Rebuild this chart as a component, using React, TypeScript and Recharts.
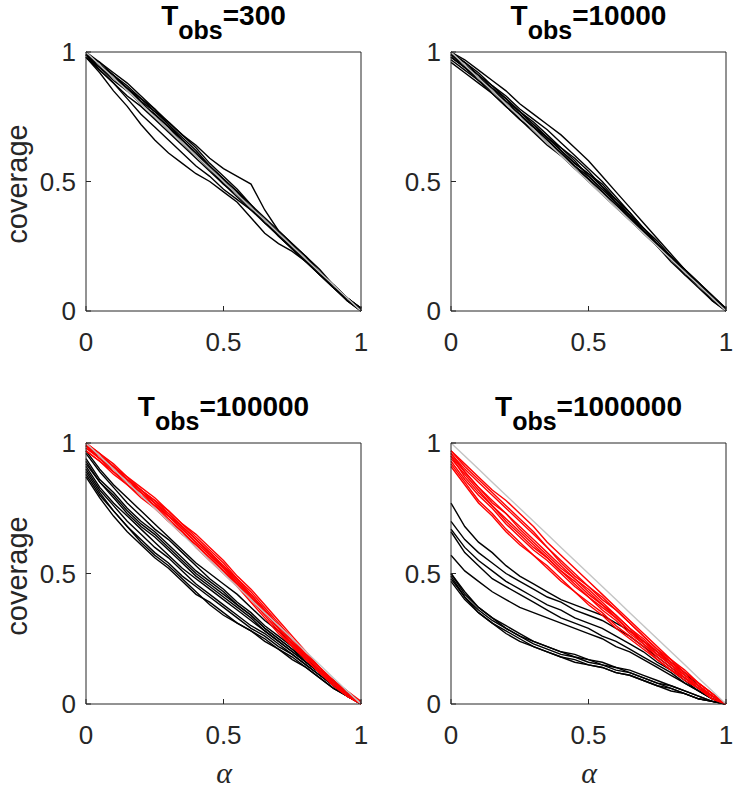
import React from "react";
import { LineChart, Line, XAxis, YAxis } from "recharts";

// alpha grid shared by every curve
const alpha = [0, 0.05, 0.1, 0.15, 0.2, 0.25, 0.3, 0.35, 0.4, 0.45, 0.5, 0.55, 0.6, 0.65, 0.7, 0.75, 0.8, 0.85, 0.9, 0.95, 1];
const reference = [1, 0.95, 0.9, 0.85, 0.8, 0.75, 0.7, 0.65, 0.6, 0.55, 0.5, 0.45, 0.4, 0.35, 0.3, 0.25, 0.2, 0.15, 0.1, 0.05, 0];
const ticks = [0, 0.5, 1];

const t300Black = [
  [0.98, 0.92, 0.85, 0.79, 0.72, 0.66, 0.61, 0.57, 0.53, 0.5, 0.46, 0.42, 0.36, 0.3, 0.26, 0.23, 0.19, 0.14, 0.09, 0.04, 0.0],
  [0.99, 0.93, 0.88, 0.82, 0.76, 0.71, 0.66, 0.61, 0.56, 0.52, 0.47, 0.43, 0.39, 0.35, 0.3, 0.25, 0.2, 0.15, 0.1, 0.05, 0.01],
  [0.99, 0.95, 0.91, 0.86, 0.82, 0.77, 0.73, 0.68, 0.64, 0.59, 0.55, 0.52, 0.49, 0.39, 0.31, 0.26, 0.21, 0.16, 0.1, 0.05, 0.01],
  [1.0, 0.96, 0.92, 0.88, 0.83, 0.78, 0.73, 0.68, 0.63, 0.57, 0.52, 0.47, 0.41, 0.36, 0.31, 0.26, 0.21, 0.15, 0.1, 0.05, 0.0],
  [0.99, 0.95, 0.91, 0.87, 0.82, 0.78, 0.72, 0.66, 0.61, 0.56, 0.51, 0.46, 0.41, 0.35, 0.3, 0.25, 0.2, 0.15, 0.1, 0.04, 0.0],
  [0.98, 0.94, 0.89, 0.85, 0.8, 0.76, 0.71, 0.66, 0.61, 0.55, 0.5, 0.45, 0.4, 0.35, 0.29, 0.24, 0.19, 0.14, 0.09, 0.05, 0.01],
  [0.99, 0.96, 0.91, 0.86, 0.81, 0.75, 0.7, 0.65, 0.6, 0.55, 0.49, 0.44, 0.39, 0.34, 0.29, 0.24, 0.19, 0.15, 0.1, 0.05, 0.0],
  [0.98, 0.93, 0.88, 0.83, 0.79, 0.74, 0.69, 0.64, 0.59, 0.54, 0.49, 0.45, 0.4, 0.35, 0.3, 0.25, 0.2, 0.15, 0.09, 0.04, 0.0],
  [1.0, 0.95, 0.9, 0.85, 0.8, 0.76, 0.71, 0.65, 0.6, 0.55, 0.5, 0.45, 0.4, 0.34, 0.3, 0.24, 0.19, 0.14, 0.1, 0.05, 0.0],
  [0.99, 0.94, 0.9, 0.86, 0.81, 0.77, 0.72, 0.67, 0.62, 0.56, 0.51, 0.46, 0.4, 0.35, 0.29, 0.24, 0.2, 0.14, 0.09, 0.05, 0.01],
];

const t10kBlack = [
  [1.0, 0.97, 0.93, 0.89, 0.85, 0.8, 0.76, 0.72, 0.68, 0.63, 0.58, 0.52, 0.46, 0.4, 0.34, 0.28, 0.22, 0.16, 0.11, 0.06, 0.01],
  [0.99, 0.96, 0.92, 0.87, 0.83, 0.78, 0.74, 0.7, 0.65, 0.6, 0.55, 0.5, 0.44, 0.38, 0.32, 0.27, 0.21, 0.16, 0.11, 0.05, 0.0],
  [1.0, 0.95, 0.91, 0.86, 0.82, 0.77, 0.73, 0.68, 0.63, 0.59, 0.54, 0.48, 0.43, 0.37, 0.31, 0.26, 0.2, 0.15, 0.1, 0.05, 0.0],
  [0.98, 0.94, 0.89, 0.85, 0.8, 0.76, 0.71, 0.67, 0.62, 0.57, 0.53, 0.48, 0.42, 0.37, 0.31, 0.25, 0.2, 0.15, 0.1, 0.05, 0.0],
  [0.97, 0.93, 0.89, 0.84, 0.79, 0.74, 0.69, 0.64, 0.6, 0.55, 0.51, 0.46, 0.41, 0.36, 0.3, 0.25, 0.2, 0.14, 0.09, 0.04, 0.0],
  [0.99, 0.94, 0.9, 0.85, 0.81, 0.76, 0.71, 0.66, 0.61, 0.56, 0.52, 0.47, 0.42, 0.36, 0.31, 0.25, 0.21, 0.15, 0.1, 0.05, 0.01],
  [0.96, 0.92, 0.88, 0.84, 0.79, 0.74, 0.7, 0.65, 0.6, 0.55, 0.5, 0.45, 0.4, 0.35, 0.3, 0.25, 0.19, 0.14, 0.1, 0.05, 0.0],
  [1.0, 0.96, 0.91, 0.87, 0.82, 0.77, 0.72, 0.67, 0.62, 0.57, 0.53, 0.49, 0.43, 0.38, 0.32, 0.26, 0.2, 0.16, 0.11, 0.06, 0.01],
  [0.98, 0.94, 0.9, 0.85, 0.8, 0.75, 0.71, 0.66, 0.61, 0.56, 0.51, 0.46, 0.41, 0.36, 0.31, 0.26, 0.21, 0.15, 0.1, 0.04, 0.0],
  [0.99, 0.95, 0.9, 0.86, 0.81, 0.77, 0.72, 0.67, 0.63, 0.58, 0.52, 0.47, 0.42, 0.37, 0.32, 0.26, 0.21, 0.16, 0.1, 0.05, 0.01],
];

const t100kBlack = [
  [0.97, 0.9, 0.84, 0.79, 0.74, 0.69, 0.64, 0.59, 0.54, 0.5, 0.46, 0.42, 0.37, 0.32, 0.28, 0.23, 0.18, 0.13, 0.09, 0.05, 0.0],
  [0.96, 0.89, 0.83, 0.77, 0.72, 0.67, 0.63, 0.58, 0.53, 0.48, 0.44, 0.39, 0.35, 0.3, 0.26, 0.22, 0.17, 0.13, 0.09, 0.04, 0.0],
  [0.94, 0.86, 0.81, 0.75, 0.7, 0.66, 0.61, 0.56, 0.51, 0.47, 0.43, 0.38, 0.34, 0.29, 0.25, 0.21, 0.17, 0.12, 0.08, 0.04, 0.0],
  [0.92, 0.85, 0.79, 0.73, 0.68, 0.64, 0.59, 0.54, 0.49, 0.45, 0.41, 0.37, 0.33, 0.28, 0.24, 0.2, 0.16, 0.12, 0.08, 0.04, 0.0],
  [0.91, 0.83, 0.77, 0.72, 0.67, 0.62, 0.57, 0.52, 0.48, 0.44, 0.4, 0.36, 0.32, 0.28, 0.24, 0.2, 0.16, 0.12, 0.07, 0.03, 0.0],
  [0.9, 0.82, 0.76, 0.7, 0.65, 0.6, 0.56, 0.51, 0.46, 0.42, 0.38, 0.34, 0.3, 0.27, 0.23, 0.19, 0.15, 0.11, 0.07, 0.03, 0.0],
  [0.88, 0.8, 0.74, 0.68, 0.63, 0.58, 0.54, 0.49, 0.45, 0.41, 0.37, 0.33, 0.29, 0.26, 0.22, 0.19, 0.15, 0.11, 0.07, 0.03, 0.0],
  [0.87, 0.79, 0.72, 0.66, 0.61, 0.56, 0.52, 0.47, 0.42, 0.39, 0.35, 0.31, 0.28, 0.25, 0.21, 0.18, 0.14, 0.1, 0.06, 0.03, 0.0],
  [0.89, 0.81, 0.74, 0.68, 0.62, 0.57, 0.53, 0.48, 0.43, 0.38, 0.34, 0.31, 0.28, 0.24, 0.21, 0.17, 0.14, 0.1, 0.06, 0.03, 0.0],
  [0.93, 0.85, 0.8, 0.74, 0.69, 0.65, 0.6, 0.55, 0.5, 0.46, 0.42, 0.38, 0.34, 0.29, 0.25, 0.21, 0.16, 0.12, 0.08, 0.04, 0.0],
];

const t100kRed = [
  [1.0, 0.96, 0.92, 0.87, 0.83, 0.79, 0.74, 0.69, 0.64, 0.59, 0.54, 0.48, 0.43, 0.37, 0.31, 0.25, 0.19, 0.14, 0.09, 0.04, 0.0],
  [0.99, 0.95, 0.91, 0.86, 0.82, 0.77, 0.73, 0.68, 0.63, 0.58, 0.53, 0.47, 0.42, 0.36, 0.3, 0.24, 0.18, 0.13, 0.08, 0.04, 0.0],
  [0.98, 0.94, 0.9, 0.86, 0.81, 0.77, 0.72, 0.67, 0.62, 0.57, 0.52, 0.46, 0.4, 0.35, 0.29, 0.23, 0.18, 0.13, 0.08, 0.03, 0.0],
  [0.99, 0.94, 0.89, 0.85, 0.8, 0.76, 0.71, 0.66, 0.61, 0.56, 0.51, 0.45, 0.4, 0.34, 0.28, 0.22, 0.17, 0.12, 0.08, 0.04, 0.0],
  [0.97, 0.93, 0.89, 0.84, 0.8, 0.75, 0.7, 0.66, 0.6, 0.55, 0.5, 0.45, 0.39, 0.33, 0.27, 0.22, 0.17, 0.12, 0.07, 0.03, 0.0],
  [1.0, 0.96, 0.91, 0.87, 0.82, 0.78, 0.74, 0.69, 0.65, 0.6, 0.55, 0.49, 0.44, 0.38, 0.32, 0.26, 0.2, 0.14, 0.09, 0.04, 0.0],
  [0.98, 0.95, 0.9, 0.85, 0.81, 0.76, 0.72, 0.67, 0.62, 0.57, 0.52, 0.47, 0.41, 0.35, 0.29, 0.23, 0.17, 0.12, 0.07, 0.03, 0.0],
  [0.99, 0.95, 0.91, 0.86, 0.82, 0.78, 0.73, 0.68, 0.63, 0.58, 0.53, 0.48, 0.42, 0.36, 0.3, 0.24, 0.18, 0.13, 0.09, 0.05, 0.01],
  [0.97, 0.93, 0.88, 0.84, 0.79, 0.75, 0.7, 0.65, 0.61, 0.56, 0.51, 0.46, 0.41, 0.35, 0.29, 0.23, 0.17, 0.12, 0.08, 0.03, 0.0],
  [1.0, 0.95, 0.91, 0.86, 0.82, 0.77, 0.72, 0.68, 0.63, 0.58, 0.52, 0.47, 0.41, 0.36, 0.3, 0.24, 0.19, 0.13, 0.08, 0.04, 0.0],
];

const t1mBlack = [
  [0.77, 0.68, 0.62, 0.58, 0.53, 0.49, 0.46, 0.43, 0.4, 0.38, 0.36, 0.34, 0.31, 0.28, 0.24, 0.2, 0.16, 0.12, 0.07, 0.03, 0.0],
  [0.7, 0.63, 0.58, 0.54, 0.5, 0.47, 0.44, 0.41, 0.39, 0.36, 0.34, 0.32, 0.29, 0.26, 0.22, 0.18, 0.14, 0.1, 0.06, 0.03, 0.0],
  [0.67, 0.6, 0.55, 0.51, 0.47, 0.44, 0.41, 0.38, 0.36, 0.33, 0.31, 0.29, 0.26, 0.23, 0.2, 0.16, 0.13, 0.09, 0.05, 0.02, 0.0],
  [0.66, 0.58, 0.53, 0.48, 0.45, 0.42, 0.39, 0.36, 0.33, 0.31, 0.29, 0.26, 0.24, 0.21, 0.18, 0.15, 0.12, 0.08, 0.05, 0.02, 0.0],
  [0.57, 0.51, 0.47, 0.43, 0.4, 0.37, 0.35, 0.33, 0.31, 0.29, 0.27, 0.25, 0.22, 0.2, 0.17, 0.14, 0.11, 0.08, 0.05, 0.02, 0.0],
  [0.5, 0.42, 0.37, 0.33, 0.3, 0.27, 0.24, 0.22, 0.2, 0.19, 0.17, 0.16, 0.14, 0.13, 0.11, 0.09, 0.07, 0.05, 0.03, 0.01, 0.0],
  [0.49, 0.41, 0.36, 0.32, 0.29, 0.26, 0.23, 0.21, 0.19, 0.18, 0.16, 0.15, 0.13, 0.12, 0.1, 0.08, 0.06, 0.04, 0.02, 0.01, 0.0],
  [0.47, 0.4, 0.35, 0.31, 0.28, 0.25, 0.22, 0.2, 0.18, 0.17, 0.15, 0.14, 0.12, 0.11, 0.09, 0.07, 0.05, 0.04, 0.02, 0.01, 0.0],
  [0.5, 0.43, 0.37, 0.33, 0.29, 0.26, 0.24, 0.22, 0.2, 0.18, 0.17, 0.15, 0.14, 0.12, 0.1, 0.08, 0.07, 0.05, 0.03, 0.01, 0.0],
  [0.48, 0.41, 0.35, 0.31, 0.27, 0.24, 0.22, 0.2, 0.18, 0.16, 0.15, 0.14, 0.12, 0.11, 0.09, 0.07, 0.06, 0.04, 0.02, 0.01, 0.0],
];

const t1mRed = [
  [0.97, 0.92, 0.87, 0.82, 0.78, 0.73, 0.68, 0.62, 0.57, 0.52, 0.47, 0.42, 0.37, 0.32, 0.27, 0.22, 0.17, 0.13, 0.08, 0.04, 0.0],
  [0.96, 0.9, 0.85, 0.8, 0.75, 0.7, 0.65, 0.6, 0.55, 0.5, 0.45, 0.4, 0.36, 0.31, 0.26, 0.21, 0.16, 0.12, 0.08, 0.04, 0.0],
  [0.95, 0.89, 0.83, 0.78, 0.73, 0.68, 0.63, 0.58, 0.53, 0.48, 0.44, 0.39, 0.34, 0.29, 0.25, 0.2, 0.16, 0.11, 0.07, 0.03, 0.0],
  [0.94, 0.88, 0.82, 0.76, 0.71, 0.66, 0.61, 0.56, 0.51, 0.47, 0.42, 0.38, 0.33, 0.28, 0.24, 0.19, 0.15, 0.11, 0.07, 0.03, 0.0],
  [0.93, 0.86, 0.8, 0.75, 0.69, 0.64, 0.59, 0.55, 0.5, 0.45, 0.41, 0.36, 0.32, 0.27, 0.23, 0.18, 0.14, 0.1, 0.06, 0.03, 0.0],
  [0.92, 0.85, 0.78, 0.73, 0.67, 0.62, 0.57, 0.53, 0.48, 0.43, 0.39, 0.35, 0.3, 0.26, 0.22, 0.17, 0.13, 0.1, 0.06, 0.02, 0.0],
  [0.96, 0.89, 0.83, 0.77, 0.73, 0.67, 0.62, 0.57, 0.52, 0.48, 0.43, 0.38, 0.34, 0.29, 0.24, 0.2, 0.15, 0.11, 0.07, 0.03, 0.0],
  [0.95, 0.87, 0.81, 0.76, 0.7, 0.65, 0.6, 0.56, 0.51, 0.46, 0.41, 0.37, 0.33, 0.28, 0.23, 0.19, 0.15, 0.1, 0.07, 0.03, 0.0],
  [0.91, 0.84, 0.77, 0.72, 0.66, 0.61, 0.57, 0.52, 0.47, 0.43, 0.38, 0.34, 0.29, 0.25, 0.21, 0.17, 0.13, 0.09, 0.06, 0.02, 0.0],
  [0.97, 0.91, 0.86, 0.81, 0.76, 0.71, 0.66, 0.6, 0.54, 0.49, 0.45, 0.41, 0.36, 0.31, 0.26, 0.21, 0.17, 0.12, 0.08, 0.04, 0.0],
];

const AXIS = "#262626";
const SANS = '"Liberation Sans", Arial, Helvetica, sans-serif';
const PLOT_W = 275;

interface Group {
  lines: number[][];
  color: string;
}

interface PanelProps {
  boxX: number;
  boxY: number;
  boxH: number;
  groups: Group[];
}

function Panel({ boxX, boxY, boxH, groups }: PanelProps) {
  const keys: { key: string; color: string }[] = [];
  groups.forEach((g, gi) => g.lines.forEach((_, li) => keys.push({ key: `g${gi}_${li}`, color: g.color })));

  const rows = alpha.map((a, i) => {
    const row: Record<string, number> = { a, ref: reference[i] };
    groups.forEach((g, gi) => g.lines.forEach((l, li) => (row[`g${gi}_${li}`] = l[i])));
    return row;
  });

  const tickStyle = { fill: AXIS, fontSize: 26, fontFamily: SANS };

  // top / right axes are 1px wide so recharts still draws them: they close the box
  return (
    <div style={{ position: "absolute", left: boxX - 86, top: boxY - 52 }}>
      <LineChart
        width={86 + PLOT_W + 7}
        height={52 + boxH + 60}
        data={rows}
        margin={{ top: 51, right: 6, bottom: 20, left: 0 }}
      >
        <XAxis
          xAxisId="b"
          dataKey="a"
          type="number"
          domain={[0, 1]}
          ticks={ticks}
          height={40}
          tickSize={-5}
          tickMargin={27}
          stroke={AXIS}
          tick={tickStyle}
        />
        <XAxis
          xAxisId="t"
          orientation="top"
          dataKey="a"
          type="number"
          domain={[0, 1]}
          ticks={ticks}
          height={1}
          tickSize={-5}
          tick={false}
          stroke={AXIS}
        />
        <YAxis
          yAxisId="l"
          type="number"
          domain={[0, 1]}
          ticks={ticks}
          width={86}
          tickSize={-5}
          tickMargin={15}
          stroke={AXIS}
          tick={tickStyle}
        />
        <YAxis
          yAxisId="r"
          orientation="right"
          type="number"
          domain={[0, 1]}
          ticks={ticks}
          width={1}
          tickSize={-5}
          tick={false}
          stroke={AXIS}
        />
        {keys.map((k) => (
          <Line
            key={k.key}
            xAxisId="b"
            yAxisId="l"
            dataKey={k.key}
            stroke={k.color}
            strokeWidth={1.4}
            dot={false}
            type="linear"
            isAnimationActive={false}
          />
        ))}
        <Line
          xAxisId="b"
          yAxisId="l"
          dataKey="ref"
          stroke="#c4c4c4"
          strokeWidth={1.4}
          dot={false}
          type="linear"
          isAnimationActive={false}
        />
      </LineChart>
    </div>
  );
}

function Title({ cx, y, value }: { cx: number; y: number; value: string }) {
  return (
    <text x={cx} y={y} textAnchor="middle" fontFamily={SANS} fontWeight="bold" fontSize={28} fill="#000">
      T
      <tspan fontSize={25} dy={14}>
        obs
      </tspan>
      <tspan dy={-14}>={value}</tspan>
    </text>
  );
}

export default function App() {
  const topH = 259;
  const botH = 261;
  return (
    <div style={{ position: "absolute", left: 0, top: 0, width: 733, height: 791, overflow: "hidden", background: "#fff" }}>
      <Panel boxX={86} boxY={52} boxH={topH} groups={[{ lines: t300Black, color: "#000" }]} />
      <Panel boxX={451} boxY={52} boxH={topH} groups={[{ lines: t10kBlack, color: "#000" }]} />
      <Panel
        boxX={86}
        boxY={443}
        boxH={botH}
        groups={[
          { lines: t100kBlack, color: "#000" },
          { lines: t100kRed, color: "#ff0000" },
        ]}
      />
      <Panel
        boxX={451}
        boxY={443}
        boxH={botH}
        groups={[
          { lines: t1mBlack, color: "#000" },
          { lines: t1mRed, color: "#ff0000" },
        ]}
      />
      <svg width={733} height={791} style={{ position: "absolute", left: 0, top: 0, pointerEvents: "none", overflow: "visible" }}>
        <Title cx={223.5} y={25} value="300" />
        <Title cx={588.5} y={25} value="10000" />
        <Title cx={223.5} y={416} value="100000" />
        <Title cx={588.5} y={416} value="1000000" />
        <text x={27} y={184} transform="rotate(-90 27 184)" textAnchor="middle" fontFamily={SANS} fontSize={29} fill={AXIS}>
          coverage
        </text>
        <text x={27} y={576} transform="rotate(-90 27 576)" textAnchor="middle" fontFamily={SANS} fontSize={29} fill={AXIS}>
          coverage
        </text>
        <text x={224} y={783} textAnchor="middle" fontFamily='"Liberation Serif", serif' fontStyle="italic" fontSize={30} fill={AXIS}>
          α
        </text>
        <text x={589} y={783} textAnchor="middle" fontFamily='"Liberation Serif", serif' fontStyle="italic" fontSize={30} fill={AXIS}>
          α
        </text>
      </svg>
    </div>
  );
}
